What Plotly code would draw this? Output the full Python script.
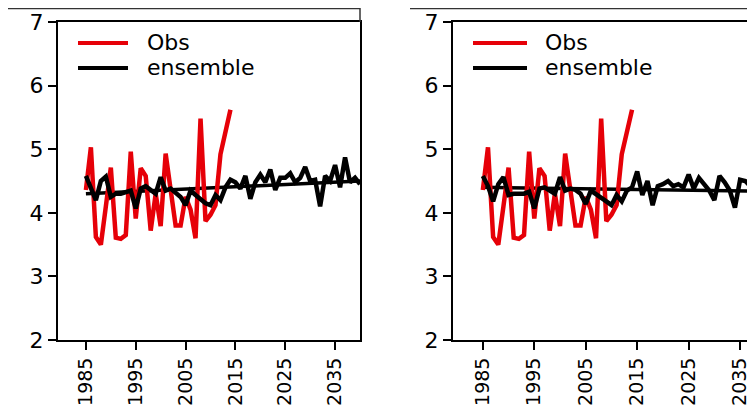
import plotly.graph_objects as go

# ---------------- data ----------------
obs_years = list(range(1985, 2015))
obs_values = [4.36, 5.03, 3.62, 3.50, 4.10, 4.71, 3.61, 3.59, 3.65, 4.96,
              3.91, 4.70, 4.58, 3.72, 4.30, 3.79, 4.93, 4.40, 3.80, 3.80,
              4.25, 4.05, 3.60, 5.48, 3.87, 3.97, 4.12, 4.92, 5.30, 5.62]

ens_years = list(range(1985, 2041))
ens_left = [4.58, 4.40, 4.20, 4.50, 4.57, 4.25, 4.30, 4.30, 4.32, 4.35,
            4.07, 4.38, 4.42, 4.35, 4.30, 4.56, 4.35, 4.38, 4.32, 4.25,
            4.12, 4.35, 4.28, 4.22, 4.15, 4.12, 4.28, 4.20, 4.40, 4.52,
            4.48, 4.38, 4.58, 4.22, 4.48, 4.60, 4.48, 4.68, 4.36, 4.55,
            4.55, 4.62, 4.48, 4.55, 4.72, 4.50, 4.52, 4.10, 4.58, 4.50,
            4.75, 4.40, 4.87, 4.48, 4.55, 4.45]
ens_right = [4.58, 4.42, 4.18, 4.45, 4.56, 4.28, 4.30, 4.30, 4.30, 4.33,
             4.07, 4.38, 4.40, 4.35, 4.30, 4.56, 4.35, 4.38, 4.36, 4.30,
             4.14, 4.35, 4.30, 4.25, 4.18, 4.12, 4.28, 4.18, 4.35, 4.40,
             4.65, 4.28, 4.50, 4.12, 4.42, 4.45, 4.50, 4.42, 4.45, 4.40,
             4.60, 4.38, 4.55, 4.45, 4.35, 4.20, 4.58, 4.48, 4.35, 4.08,
             4.52, 4.50, 4.42, 4.45, 4.44, 4.45]

trend_years = [1985, 2040]
trend_left = [4.30, 4.50]
trend_right = [4.40, 4.34]

x_ticks = [1985, 1995, 2005, 2015, 2025, 2035]
y_ticks = [2, 3, 4, 5, 6, 7]
legend_labels = ["Obs", "ensemble"]

RED = "#e60008"
BLACK = "#000000"
OFF = 8                      # page body margin
W, H = 755 - OFF, 405 - OFF  # figure size actually visible
FONT = "DejaVu Sans"
FS = 22
FS_X = 19

fig = go.Figure()

panels = [
    ("x", "y", ens_left, trend_left),
    ("x2", "y2", ens_right, trend_right),
]
for xa, ya, ens, trend in panels:
    fig.add_trace(go.Scatter(x=trend_years, y=trend, mode="lines",
                             line=dict(color=BLACK, width=3.5),
                             xaxis=xa, yaxis=ya, showlegend=False))
    fig.add_trace(go.Scatter(x=obs_years, y=obs_values, mode="lines",
                             line=dict(color=RED, width=4.5),
                             xaxis=xa, yaxis=ya, showlegend=False))
    fig.add_trace(go.Scatter(x=ens_years, y=ens, mode="lines",
                             line=dict(color=BLACK, width=4.5),
                             xaxis=xa, yaxis=ya, showlegend=False))

def px_x(p):
    return (p - OFF) / W

def px_y(p):
    return 1 - (p - OFF) / H

ydom = [px_y(340), px_y(22)]
axis_common = dict(showgrid=False, zeroline=False, showline=True, linecolor=BLACK,
                   linewidth=2, ticks="outside", ticklen=8, tickwidth=2,
                   tickcolor=BLACK, automargin=False)
yfont = dict(tickfont=dict(family=FONT, size=FS, color=BLACK))
xfont = dict(tickfont=dict(family=FONT, size=FS_X, color=BLACK))

fig.update_layout(
    width=W, height=H,
    margin=dict(l=0, r=0, t=0, b=0),
    paper_bgcolor="white", plot_bgcolor="white",
    showlegend=False,
    xaxis=dict(domain=[px_x(58), px_x(360)], range=[1979.4, 2040.0],
               tickvals=x_ticks, tickangle=-90, mirror=True, anchor="y",
               **axis_common, **xfont),
    yaxis=dict(domain=ydom, range=[2, 7], tickvals=y_ticks, mirror=True,
               anchor="x", **axis_common, **yfont),
    xaxis2=dict(domain=[px_x(453), 1.0], range=[1979.2, 2037.9],
                tickvals=x_ticks, tickangle=-90, mirror=True, anchor="y2",
                **axis_common, **xfont),
    yaxis2=dict(domain=ydom, range=[2, 7], tickvals=y_ticks, mirror=False,
                anchor="x2", **axis_common, **yfont),
)

# custom legends (positions given in page pixels)
shapes = []
annotations = []
for xd, yd, x0, x1, lx0, lx1, tx in [("x domain", "y domain", 58, 360, 78, 128, 145),
                                     ("x2 domain", "y2 domain", 453, 755, 473, 527, 543)]:
    span = x1 - x0
    for label, color, ly in zip(legend_labels, [RED, BLACK], [43, 68]):
        yy = (340 - ly) / (340 - 22)
        shapes.append(dict(type="line", xref=xd, yref=yd,
                           x0=(lx0 - x0) / span, x1=(lx1 - x0) / span,
                           y0=yy, y1=yy, line=dict(color=color, width=4)))
        annotations.append(dict(xref=xd, yref=yd, x=(tx - x0) / span, y=yy,
                                text=label, showarrow=False, xanchor="left",
                                yanchor="middle",
                                font=dict(family=FONT, size=FS, color=BLACK)))

# outer frame lines above the panels
shapes.append(dict(type="line", xref="paper", yref="paper",
                   x0=0, x1=px_x(360), y0=px_y(8.5), y1=px_y(8.5),
                   line=dict(color="#333333", width=1.5)))
shapes.append(dict(type="line", xref="paper", yref="paper",
                   x0=px_x(360), x1=px_x(360), y0=px_y(8), y1=px_y(22),
                   line=dict(color="#333333", width=1.5)))
shapes.append(dict(type="line", xref="paper", yref="paper",
                   x0=px_x(410), x1=1, y0=px_y(8.5), y1=px_y(8.5),
                   line=dict(color="#333333", width=1.5)))

fig.update_layout(shapes=shapes, annotations=annotations)

fig.write_html("out.html")
